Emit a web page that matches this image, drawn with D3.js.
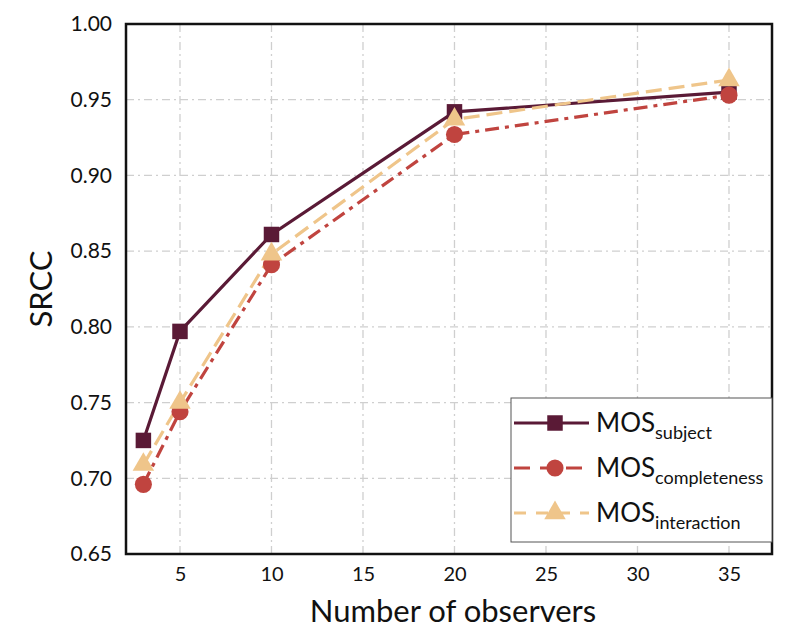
<!DOCTYPE html>
<html>
<head>
<meta charset="utf-8">
<script src="https://cdn.jsdelivr.net/npm/d3@7"></script>
<style>
  body { margin: 0; background: #fff; }
  svg text { font-family: Lato, 'Open Sans', sans-serif; }
</style>
</head>
<body>
<div class="container"></div>
<script>
const observers = [3, 5, 10, 20, 35];
const mosSubject = [0.725, 0.797, 0.861, 0.942, 0.955];
const mosCompleteness = [0.696, 0.744, 0.841, 0.927, 0.953];
const mosInteraction = [0.709, 0.750, 0.848, 0.937, 0.963];
const xTicks = [5, 10, 15, 20, 25, 30, 35];
const yTicks = [0.65, 0.7, 0.75, 0.8, 0.85, 0.9, 0.95, 1.0];

const width = 795;
const height = 634;
const margin = { top: 24, right: 23, bottom: 80, left: 126 };

const series = [
  { name: 'subject', values: mosSubject, color: '#5a1a36', dash: null, legendDash: null, shape: d3.symbolSquare, size: 240 },
  { name: 'completeness', values: mosCompleteness, color: '#c0443f', dash: '14,6,4,6', legendDash: '16,10', shape: d3.symbolCircle, size: 230 },
  { name: 'interaction', values: mosInteraction, color: '#efc58a', dash: '16,7', legendDash: '12,10', shape: d3.symbolTriangle, size: 200 }
];

const svg = d3
  .select('.container')
  .append('svg')
  .attr('width', width)
  .attr('height', height);

const xScale = d3
  .scaleLinear()
  .domain([2.05, 37.35])
  .range([margin.left, width - margin.right]);

const yScale = d3
  .scaleLinear()
  .domain([0.65, 1.0])
  .range([height - margin.bottom, margin.top]);

// grid
const grid = svg.append('g').attr('id', 'grid');
grid
  .selectAll('.vgrid')
  .data(xTicks)
  .enter()
  .append('line')
  .attr('x1', (d) => xScale(d))
  .attr('x2', (d) => xScale(d))
  .attr('y1', margin.top)
  .attr('y2', height - margin.bottom)
  .attr('stroke', '#cfcfcf')
  .attr('stroke-width', 1.3)
  .attr('stroke-dasharray', '8,4,2,4');
grid
  .selectAll('.hgrid')
  .data(yTicks.slice(1, -1))
  .enter()
  .append('line')
  .attr('x1', margin.left)
  .attr('x2', width - margin.right)
  .attr('y1', (d) => yScale(d))
  .attr('y2', (d) => yScale(d))
  .attr('stroke', '#cfcfcf')
  .attr('stroke-width', 1.3)
  .attr('stroke-dasharray', '8,4,2,4');

// axes
const xAxis = d3.axisBottom(xScale).tickValues(xTicks).tickSize(0).tickPadding(13).tickFormat(d3.format('d'));
const yAxis = d3.axisLeft(yScale).tickValues(yTicks).tickSize(0).tickPadding(14).tickFormat(d3.format('.2f'));

svg
  .append('g')
  .attr('id', 'x-axis')
  .attr('transform', `translate(0,${height - margin.bottom})`)
  .call(xAxis)
  .call((g) => g.select('.domain').remove())
  .selectAll('text')
  .style('font-size', '20px')
  .attr('fill', '#111');

svg
  .append('g')
  .attr('id', 'y-axis')
  .attr('transform', `translate(${margin.left},0)`)
  .call(yAxis)
  .call((g) => g.select('.domain').remove())
  .selectAll('text')
  .style('font-size', '21px')
  .attr('fill', '#111');

// frame
svg
  .append('rect')
  .attr('x', margin.left)
  .attr('y', margin.top)
  .attr('width', width - margin.left - margin.right)
  .attr('height', height - margin.top - margin.bottom)
  .attr('fill', 'none')
  .attr('stroke', '#111')
  .attr('stroke-width', 2.5);

// axis labels
svg
  .append('text')
  .attr('x', 453)
  .attr('y', 622)
  .attr('text-anchor', 'middle')
  .style('font-size', '31px')
  .attr('fill', '#111')
  .text('Number of observers');

svg
  .append('text')
  .attr('transform', 'rotate(-90)')
  .attr('x', -(margin.top + height - margin.bottom) / 2)
  .attr('y', 52)
  .attr('text-anchor', 'middle')
  .style('font-size', '31px')
  .attr('fill', '#111')
  .text('SRCC');

// lines and markers
const line = d3
  .line()
  .x((d, i) => xScale(observers[i]))
  .y((d) => yScale(d));

series.forEach((s) => {
  svg
    .append('path')
    .datum(s.values)
    .attr('d', line)
    .attr('fill', 'none')
    .attr('stroke', s.color)
    .attr('stroke-width', 3.2)
    .attr('stroke-dasharray', s.dash);
});

series.forEach((s) => {
  svg
    .append('g')
    .selectAll('path')
    .data(s.values)
    .enter()
    .append('path')
    .attr('d', d3.symbol().type(s.shape).size(s.size))
    .attr('transform', (d, i) => `translate(${xScale(observers[i])},${yScale(d)})`)
    .attr('fill', s.color);
});

// legend
const legend = svg.append('g').attr('id', 'legend');
legend
  .append('rect')
  .attr('x', 511)
  .attr('y', 398)
  .attr('width', 261)
  .attr('height', 144)
  .attr('fill', '#fff')
  .attr('stroke', '#555')
  .attr('stroke-width', 1);

series.forEach((s, i) => {
  const cy = 423 + i * 45;
  legend
    .append('line')
    .attr('x1', 514)
    .attr('x2', 589)
    .attr('y1', cy)
    .attr('y2', cy)
    .attr('stroke', s.color)
    .attr('stroke-width', 3.2)
    .attr('stroke-dasharray', s.legendDash);
  legend
    .append('path')
    .attr('d', d3.symbol().type(s.shape).size(s.size))
    .attr('transform', `translate(555,${cy})`)
    .attr('fill', s.color);
  const t = legend
    .append('text')
    .attr('x', 596)
    .attr('y', cy + 9)
    .style('font-size', '26px')
    .attr('fill', '#111');
  t.append('tspan').text('MOS');
  t.append('tspan')
    .attr('dy', 7)
    .style('font-size', '18px')
    .text(s.name);
});
</script>
</body>
</html>
